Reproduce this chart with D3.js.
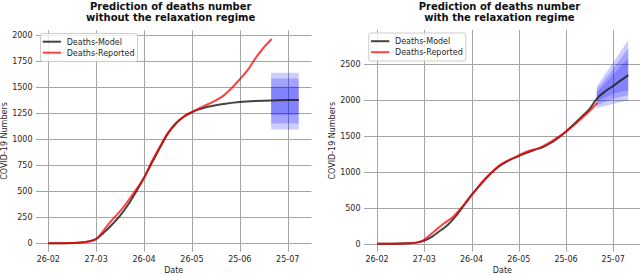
<!DOCTYPE html>
<html>
<head>
<meta charset="utf-8">
<script src="https://d3js.org/d3.v7.min.js"></script>
<style>
  body { margin: 0; background: #fff; }
  text { font-family: "DejaVu Sans", sans-serif; }
</style>
</head>
<body>
<div id="chart"></div>
<script>
// shared axis values (days since 26-02)
var dayTicks = [0, 30, 60, 90, 120, 150];
var dateLabels = ["26-02", "27-03", "26-04", "26-05", "25-06", "25-07"];

// left panel: without relaxation
var leftYTicks = [0, 250, 500, 750, 1000, 1250, 1500, 1750, 2000];
var leftModelDays = [0, 10, 20, 25, 30, 35, 40, 45, 50, 55, 60, 65, 70, 75, 80, 85, 90, 95, 100, 110, 120, 130, 140, 150, 157];
var leftModel = [0, 1, 8, 18, 42, 105, 180, 265, 370, 495, 630, 775, 920, 1055, 1150, 1215, 1258, 1288, 1310, 1338, 1356, 1366, 1372, 1375, 1376];
var leftRepDays = [0, 10, 20, 25, 30, 33, 36, 40, 43, 47, 51, 55, 60, 65, 70, 75, 80, 85, 90, 95, 100, 105, 110, 115, 120, 125, 130, 135, 140];
var leftReported = [0, 1, 5, 14, 40, 90, 150, 225, 275, 345, 430, 515, 630, 790, 930, 1060, 1155, 1220, 1262, 1300, 1335, 1372, 1420, 1492, 1575, 1665, 1780, 1880, 1962];
var leftBandDays = [139.6, 156.9];
var leftOuterLo = [1093, 1093], leftOuterHi = [1637, 1637];
var leftMidLo = [1151, 1151], leftMidHi = [1583, 1583];
var leftInnerLo = [1231, 1231], leftInnerHi = [1503, 1503];

// right panel: with relaxation
var rightYTicks = [0, 500, 1000, 1500, 2000, 2500];
var rightModelDays = [0, 10, 20, 25, 30, 35, 40, 45, 50, 55, 60, 65, 70, 75, 80, 85, 90, 95, 100, 105, 110, 115, 120, 125, 130, 135, 139.5, 145, 150, 155, 159.5];
var rightModel = [0, 1, 6, 15, 45, 100, 180, 265, 385, 530, 680, 805, 930, 1035, 1115, 1175, 1220, 1268, 1308, 1345, 1400, 1475, 1565, 1665, 1770, 1880, 2020, 2125, 2200, 2280, 2350];
var rightRepDays = [0, 10, 20, 25, 30, 33, 36, 42, 48, 55, 61, 65, 70, 78, 87, 95, 104, 110, 116, 120, 125, 130, 135, 140];
var rightReported = [0, 1, 5, 15, 55, 110, 167, 274, 370, 539, 700, 818, 935, 1097, 1199, 1282, 1343, 1415, 1500, 1560, 1650, 1750, 1850, 1965];
var rightFanDays = [139.5, 145, 150, 155, 159.5];
var rightOuterHi = [2190, 2370, 2530, 2690, 2840];
var rightOuterLo = [1890, 1920, 1950, 1975, 1995];
var rightMidHi = [2150, 2300, 2440, 2590, 2720];
var rightMidLo = [1930, 1980, 2020, 2050, 2070];
var rightInnerHi = [2100, 2240, 2360, 2480, 2580];
var rightInnerLo = [1970, 2040, 2090, 2120, 2140];

var svg = d3.select("#chart").append("svg")
    .attr("width", 640)
    .attr("height", 275);

function drawPanel(p, id) {
    var x = d3.scaleLinear().domain(p.xDomain).range([p.left, p.right]);
    var y = d3.scaleLinear().domain(p.yDomain).range([p.bottom, p.top]);
    var g = svg.append("g");

    g.append("clipPath").attr("id", id)
        .append("rect")
        .attr("x", p.left).attr("y", p.top)
        .attr("width", p.right - p.left).attr("height", p.bottom - p.top);

    // grid
    g.selectAll(".vgrid").data(dayTicks).enter().append("line")
        .attr("x1", function(d) { return Math.round(x(d)) + 0.5; })
        .attr("x2", function(d) { return Math.round(x(d)) + 0.5; })
        .attr("y1", p.top).attr("y2", p.bottom)
        .attr("stroke", "#a4a4a4").attr("stroke-width", 1);
    g.selectAll(".hgrid").data(p.yTicks).enter().append("line")
        .attr("y1", function(d) { return Math.round(y(d)) + 0.5; })
        .attr("y2", function(d) { return Math.round(y(d)) + 0.5; })
        .attr("x1", p.left).attr("x2", p.right)
        .attr("stroke", "#a4a4a4").attr("stroke-width", 1);

    // tick labels
    g.selectAll(".xt").data(dayTicks).enter().append("text")
        .attr("x", function(d) { return x(d); })
        .attr("y", 261.5)
        .attr("text-anchor", "middle")
        .attr("font-size", 8).attr("fill", "#262626")
        .text(function(d, i) { return dateLabels[i]; });
    g.selectAll(".yt").data(p.yTicks).enter().append("text")
        .attr("x", p.left - 3.5)
        .attr("y", function(d) { return y(d); })
        .attr("dy", "0.36em")
        .attr("text-anchor", "end")
        .attr("font-size", 8).attr("fill", "#262626")
        .text(function(d) { return d; });

    // axis titles
    g.append("text")
        .attr("x", (p.left + p.right) / 2).attr("y", 272.5)
        .attr("text-anchor", "middle").attr("font-size", 8).attr("fill", "#262626")
        .text("Date");
    g.append("text")
        .attr("transform", "translate(" + p.yLabelX + "," + ((p.top + p.bottom) / 2) + ") rotate(-90)")
        .attr("text-anchor", "middle").attr("font-size", 8).attr("fill", "#262626")
        .text("COVID-19 Numbers");

    // title
    p.title.forEach(function(t, i) {
        g.append("text")
            .attr("x", (p.left + p.right) / 2 - 3)
            .attr("y", 10 + i * 10.8)
            .attr("text-anchor", "middle")
            .attr("font-size", 10).attr("font-weight", "bold").attr("fill", "#111")
            .text(t);
    });

    var plot = g.append("g").attr("clip-path", "url(#" + id + ")");

    // uncertainty bands
    var area = d3.area()
        .x(function(d) { return x(d[0]); })
        .y0(function(d) { return y(d[1]); })
        .y1(function(d) { return y(d[2]); });
    p.bands.forEach(function(b) {
        var pts = p.bandDays.map(function(d, i) { return [d, b[0][i], b[1][i]]; });
        plot.append("path")
            .attr("d", area(pts))
            .attr("fill", "blue").attr("fill-opacity", 0.2);
    });

    var line = d3.line()
        .x(function(d) { return x(d[0]); })
        .y(function(d) { return y(d[1]); })
        .curve(d3.curveMonotoneX);

    plot.append("path")
        .attr("d", line(p.modelDays.map(function(d, i) { return [d, p.model[i]]; })))
        .attr("fill", "none").attr("stroke", "#222").attr("stroke-opacity", 0.85)
        .attr("stroke-width", 2);
    plot.append("path")
        .attr("d", line(p.repDays.map(function(d, i) { return [d, p.reported[i]]; })))
        .attr("fill", "none").attr("stroke", "red").attr("stroke-opacity", 0.75)
        .attr("stroke-width", 2);

    // legend
    var lg = g.append("g").attr("transform", "translate(" + p.legend[0] + "," + p.legend[1] + ")");
    lg.append("rect")
        .attr("x", 0.5).attr("y", 0.5).attr("width", 97).attr("height", 28).attr("rx", 2)
        .attr("fill", "#fff").attr("fill-opacity", 0.8)
        .attr("stroke", "#cccccc").attr("stroke-width", 1);
    var entries = [["Deaths-Model", "#222", 0.85], ["Deaths-Reported", "red", 0.75]];
    entries.forEach(function(e, i) {
        var yy = 8.7 + i * 11;
        lg.append("line")
            .attr("x1", 2.7).attr("x2", 21).attr("y1", yy).attr("y2", yy)
            .attr("stroke", e[1]).attr("stroke-opacity", e[2]).attr("stroke-width", 2);
        lg.append("text")
            .attr("x", 26.7).attr("y", yy).attr("dy", "0.35em")
            .attr("font-size", 8).attr("fill", "#262626")
            .text(e[0]);
    });
}

drawPanel({
    left: 36, right: 311.4, top: 30.3, bottom: 251.6,
    xDomain: [-7.7, 164.85], yDomain: [-80, 2045],
    yTicks: leftYTicks, yLabelX: 7,
    title: ["Prediction of deaths number", "without the relaxation regime"],
    modelDays: leftModelDays, model: leftModel,
    repDays: leftRepDays, reported: leftReported,
    bandDays: leftBandDays,
    bands: [[leftOuterLo, leftOuterHi], [leftMidLo, leftMidHi], [leftInnerLo, leftInnerHi]],
    legend: [40, 33]
}, "clipL");

drawPanel({
    left: 364, right: 640.8, top: 29.9, bottom: 251.6,
    xDomain: [-8.3, 167.5], yDomain: [-110, 2980],
    yTicks: rightYTicks, yLabelX: 334.5,
    title: ["Prediction of deaths number", "with the relaxation regime"],
    modelDays: rightModelDays, model: rightModel,
    repDays: rightRepDays, reported: rightReported,
    bandDays: rightFanDays,
    bands: [[rightOuterLo, rightOuterHi], [rightMidLo, rightMidHi], [rightInnerLo, rightInnerHi]],
    legend: [368.3, 32.5]
}, "clipR");
</script>
</body>
</html>
